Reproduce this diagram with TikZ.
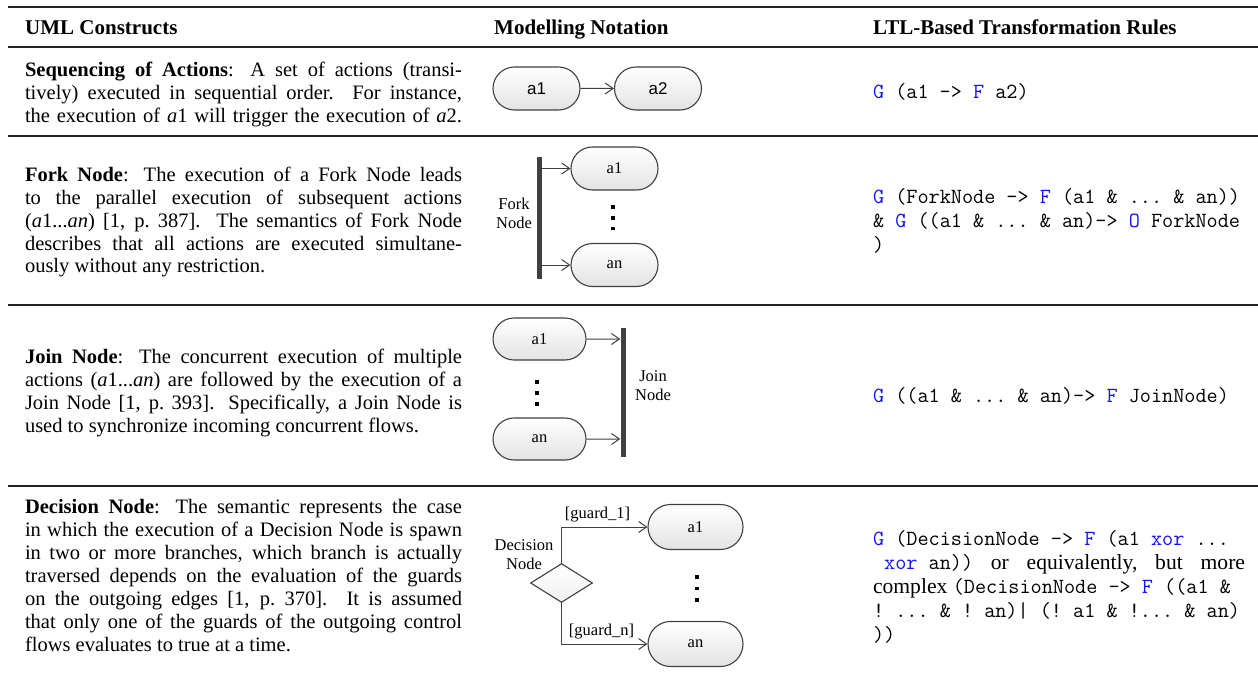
\documentclass[tikz,border=0pt]{standalone}
\usepackage{fontspec}
\setmainfont{Liberation Serif}
\newfontfamily\diasans{Liberation Sans}
\usetikzlibrary{arrows.meta,shapes.geometric,shapes.misc}
\definecolor{kwc}{RGB}{20,20,250}
\definecolor{lnc}{RGB}{64,64,64}
\definecolor{rulec}{RGB}{35,35,35}
\newcommand\kw[1]{\textcolor{kwc}{#1}}
\newlength\colw \setlength\colw{437pt}
\newlength\codew \setlength\codew{395pt}
\newlength\codejw \setlength\codejw{372pt}
\newcommand\jl[1]{\makebox[\colw][s]{#1}}
\newcommand\jc[1]{\makebox[\codejw][s]{#1}}
\newcommand\coltext{\fontsize{20.5}{23}\selectfont}
\newcommand\codetext{\fontsize{21.6}{24}\selectfont\frenchspacing}
\begin{document}
\begin{tikzpicture}[x=1pt,y=-1pt,
  para/.style={anchor=base west, inner sep=0pt, outer sep=0pt},
  head/.style={anchor=base west, inner sep=0pt, font=\bfseries\fontsize{21}{25}\selectfont},
  act/.style={rounded rectangle, draw=lnc, line width=1.1pt, top color=white, bottom color=black!11,
     minimum width=87pt, minimum height=43pt, inner sep=0pt, font=\fontsize{16.5}{19}\selectfont},
  flow/.style={draw=lnc, line width=1pt, -{Straight Barb[length=8pt,width=11pt]}},
  syncbar/.style={rectangle, fill=lnc, draw=none, minimum width=5pt, inner sep=0pt},
  dotsq/.style={rectangle, fill=black, draw=none, minimum width=3.6pt, minimum height=3.6pt, inner sep=0pt},
  lbl/.style={align=center, inner sep=0pt, font=\fontsize{16.5}{19}\selectfont},
  rulethin/.style={draw=rulec, line width=1.3pt}
]
\useasboundingbox (0,0) rectangle (1258,682);
\fill[white] (0,0) rectangle (1258,682);

% rules
\draw[draw=rulec, line width=2pt] (8,7) -- (1258,7);
\draw[draw=rulec, line width=1.5pt] (8,47) -- (1258,47);
\draw[rulethin] (8,136) -- (1258,136);
\draw[rulethin] (8,305) -- (1258,305);
\draw[rulethin] (8,486) -- (1258,486);

% header
\node[head] (h1) at (25,35) {UML Constructs};
\node[head] (h2) at (494,35) {Modelling Notation};
\node[head] (h3) at (873,35) {LTL-Based Transformation Rules};

% column 1
\node[para] (c1r1) at (25,77) {\parbox[t]{\colw}{\coltext
\jl{\textbf{Sequencing of Actions}: A set of actions (transi-}\\
\jl{tively) executed in sequential order. For instance,}\\
\jl{the execution of \textit{a}1 will trigger the execution of \textit{a}2.}}};

\node[para] (c1r2) at (25,181) {\parbox[t]{\colw}{\coltext
\jl{\textbf{Fork Node}: The execution of a Fork Node leads}\\
\jl{to the parallel execution of subsequent actions}\\
\jl{(\textit{a}1...\textit{an}) [1, p.\ 387]. The semantics of Fork Node}\\
\jl{describes that all actions are executed simultane-}\\
ously without any restriction.}};

\node[para] (c1r3) at (25,363) {\parbox[t]{\colw}{\coltext
\jl{\textbf{Join Node}: The concurrent execution of multiple}\\
\jl{actions (\textit{a}1...\textit{an}) are followed by the execution of a}\\
\jl{Join Node [1, p.\ 393]. Specifically, a Join Node is}\\
used to synchronize incoming concurrent flows.}};

\node[para] (c1r4) at (25,513) {\parbox[t]{\colw}{\coltext
\jl{\textbf{Decision Node}: The semantic represents the case}\\
\jl{in which the execution of a Decision Node is spawn}\\
\jl{in two or more branches, which branch is actually}\\
\jl{traversed depends on the evaluation of the guards}\\
\jl{on the outgoing edges [1, p.\ 370]. It is assumed}\\
\jl{that only one of the guards of the outgoing control}\\
flows evaluates to true at a time.}};

% column 3
\node[para] (c3r1) at (873,99) {\parbox[t]{\codew}{\codetext
\texttt{\kw{G} (a1 -> \kw{F} a2)}}};

\node[para] (c3r2) at (873,203) {\parbox[t]{\codew}{\codetext
\texttt{\kw{G} (ForkNode -> \kw{F} (a1 \& ... \& an))}\\
\texttt{\& \kw{G} ((a1 \& ... \& an)-> \kw{O} ForkNode}\\
\texttt{)}}};

\node[para] (c3r3) at (873,402) {\parbox[t]{\codew}{\codetext
\texttt{\kw{G} ((a1 \& ... \& an)-> \kw{F} JoinNode)}}};

\node[para] (c3r4) at (873,545) {\parbox[t]{\codew}{\codetext
\texttt{\kw{G} (DecisionNode -> \kw{F} (a1 \kw{xor} ...}\\
\jc{\texttt{\ \kw{xor} an))} or equivalently, but more}\\
complex \texttt{(DecisionNode -> \kw{F} ((a1 \&}\\
\texttt{! ... \& ! an)| (! a1 \& !... \& an)}\\
\texttt{))}}};

% row 1 diagram
\node[act, font=\diasans\fontsize{17}{20}\selectfont] (s1) at (536.5,88.5) {a1};
\node[act, font=\diasans\fontsize{17}{20}\selectfont] (s2) at (658,88.5) {a2};
\draw[flow] (s1) -- (s2);

% row 2 diagram (fork)
\node[syncbar, minimum height=122pt] (fork) at (539.5,218) {};
\node[act] (f1) at (614.5,168.5) {a1};
\node[act] (fn) at (614.5,265) {an};
\draw[flow] (fork.east |- f1) -- (f1);
\draw[flow] (fork.east |- fn) -- (fn);
\node[dotsq] (fd1) at (613,207) {};
\node[dotsq] (fd2) at (613,218) {};
\node[dotsq] (fd3) at (613,228.5) {};
\node[lbl] (forklbl) at (514,213) {Fork\\Node};

% row 3 diagram (join)
\node[act, minimum width=93pt, minimum height=42pt] (j1) at (539.5,339) {a1};
\node[act, minimum width=93pt, minimum height=42pt] (jn) at (539.5,439) {an};
\node[syncbar, minimum height=129pt] (join) at (623,392.5) {};
\draw[flow] (j1) -- (j1 -| join.west);
\draw[flow] (jn) -- (jn -| join.west);
\node[dotsq] (jd1) at (537,382) {};
\node[dotsq] (jd2) at (537,393) {};
\node[dotsq] (jd3) at (537,404) {};
\node[lbl] (joinlbl) at (653,386) {Join\\Node};

% row 4 diagram (decision)
\node[diamond, draw=lnc, line width=1.1pt, top color=white, bottom color=black!6,
  minimum width=62pt, minimum height=39pt, inner sep=0pt] (dec) at (561.5,583) {};
\node[act, minimum width=95pt, minimum height=45pt] (d1) at (695.5,527) {a1};
\node[act, minimum width=95pt, minimum height=45pt] (dn) at (695.5,644) {an};
\draw[flow] (dec.north) |- (d1);
\draw[flow] (dec.south) |- (dn);
\node[lbl, anchor=base] (g1) at (597.5,518) {[guard\_1]};
\node[lbl, anchor=base] (gn) at (601.5,635) {[guard\_n]};
\node[lbl] (declbl) at (524,555) {Decision\\Node};
\node[dotsq] (dd1) at (697,577) {};
\node[dotsq] (dd2) at (697,588.5) {};
\node[dotsq] (dd3) at (697,600) {};
\end{tikzpicture}
\end{document}
